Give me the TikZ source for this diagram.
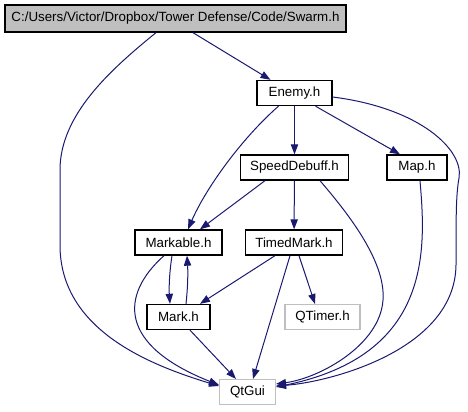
\documentclass[tikz,border=0pt]{standalone}
\usepackage{fontspec}
\setmainfont{Liberation Sans}
\usepackage{xcolor}
\usepackage{tikz}
\usetikzlibrary{arrows.meta, calc}
\definecolor{edgeblue}{HTML}{191970}
\definecolor{boxgray}{HTML}{BFBFBF}

\tikzset{
    hfile/.style={draw=black, line width=1pt, fill=white, minimum height=18.75pt, inner sep=0pt, font=\fontsize{10}{12}\selectfont},
    extfile/.style={hfile, draw=boxgray, line width=0.8pt},
    inc/.style={draw=edgeblue, line width=0.75pt, -{Triangle[length=7.5pt, width=5.5pt]}}
}

\begin{document}
\begin{tikzpicture}[x=0.75pt, y=-0.75pt]
\useasboundingbox (0,0) rectangle (468,411);

% ── Files ─────────────────────────────────────────────────────────
\node[hfile, fill=boxgray, minimum width=255.75pt, minimum height=20.25pt] (swarm) at (175.5, 18.5) {C:/Users/Victor/Dropbox/Tower Defense/Code/Swarm.h};
\node[hfile, minimum width=56.25pt] (enemy) at (294.5, 93) {Enemy.h};
\node[hfile, minimum width=81pt] (speed) at (294.5, 167.5) {SpeedDebuff.h};
\node[hfile, minimum width=45pt] (map) at (417, 167.5) {Map.h};
\node[hfile, minimum width=65.25pt] (markable) at (178.5, 242.5) {Markable.h};
\node[hfile, minimum width=72.75pt] (timed) at (294, 242.5) {TimedMark.h};
\node[hfile, minimum width=47.25pt] (mark) at (178.5, 317) {Mark.h};
\node[extfile, minimum width=56.25pt] (qtimer) at (322.5, 317) {QTimer.h};
\node[extfile, minimum width=42pt] (qtgui) at (247.5, 392) {QtGui};

% ── Includes ──────────────────────────────────────────────────────
\draw[inc] ($(swarm.south)+(17.5,0)$) -- ($(enemy.north)+(-24,0)$);
\draw[inc] ($(swarm.south)+(-19.5,0)$) .. controls (110,70) and (60,115) .. (60,170)
    -- (60,245) .. controls (60,330) and (150,365) .. ($(qtgui.west)+(0,-6)$);

\draw[inc] ($(enemy.south)+(-16,0)$) .. controls (240,140) and (205,190) .. ($(markable.north)+(9.5,0)$);
\draw[inc] (enemy) -- (speed);
\draw[inc] ($(enemy.south)+(21,0)$) -- ($(map.north)+(-17,0)$);
\draw[inc] ($(enemy.east)+(0,4)$) .. controls (420,108) and (464,150) .. (459,178)
    .. controls (456,195) and (456,215) .. (456,265)
    .. controls (455,350) and (330,382) .. ($(qtgui.east)+(0,-6)$);

\draw[inc] ($(speed.south)+(-29.5,0)$) -- ($(markable.north)+(21.5,0)$);
\draw[inc] (speed) -- (timed);
\draw[inc] ($(speed.south)+(25.5,0)$) .. controls (345,210) and (386,260) .. (383,300)
    .. controls (380,345) and (320,378) .. ($(qtgui.east)+(0,-8)$);

\draw[inc] ($(map.south)+(3,0)$) .. controls (426,250) and (432,355) .. ($(qtgui.east)+(0,-5)$);

% Markable <-> Mark
\draw[inc] ($(markable.south)+(-6.5,0)$) .. controls (169,275) and (169,290) .. ($(mark.north)+(-8.5,0)$);
\draw[inc] ($(mark.north)+(7.5,0)$) .. controls (188,285) and (188,272) .. ($(markable.south)+(8.5,0)$);
\draw[inc] ($(markable.south)+(-14.5,0)$) .. controls (120,295) and (118,345) .. ($(qtgui.west)+(0,-7)$);

\draw[inc] ($(timed.south)+(-19,0)$) -- ($(mark.north)+(21.5,0)$);
\draw[inc] ($(timed.south)+(-4,0)$) -- ($(qtgui.north)+(5.5,0)$);
\draw[inc] ($(timed.south)+(5,0)$) -- ($(qtimer.north)+(-7.5,0)$);
\draw[inc] ($(mark.south)+(11.5,0)$) -- ($(qtgui.north)+(-11.5,0)$);

\end{tikzpicture}
\end{document}
